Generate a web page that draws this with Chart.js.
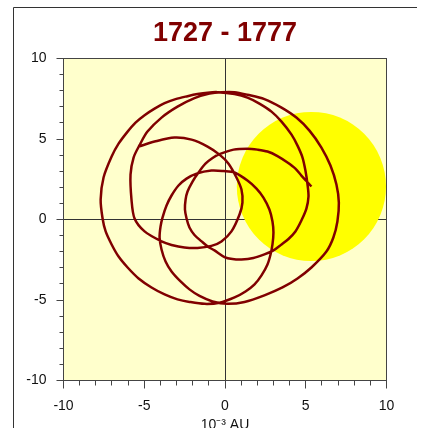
<!DOCTYPE html>
<html>
<head>
<meta charset="utf-8">
<script src="https://cdn.jsdelivr.net/npm/chart.js@4/dist/chart.umd.min.js"></script>
<style>
html,body{margin:0;padding:0;background:#fff;}
#wrap{width:424px;height:428px;position:relative;overflow:hidden;}
canvas{display:block;}
</style>
</head>
<body>
<div id="wrap"><canvas id="c" width="424" height="428"></canvas></div>
<script>
// ---- data (units: 10^-3 AU) ----
const titleText = '1727 - 1777';
const axisTitle = '10⁻³ AU';
const tickLabels = [-10, -5, 0, 5, 10];
const axisMin = -10;
const axisMax = 10;

// path of the Sun's centre about the barycentre, 1727 -> 1777
const orbitX = [
  -5.35, -4.36, -3.13, -2.07, -1.08, -0.34, 0.22, 0.71, 1.02, 1.08,
  0.90, 0.40, -0.22, -0.84, -1.70, -2.51, -3.31, -3.93, -4.98, -5.60,
  -5.79, -5.85, -5.66, -5.29, -4.80, -3.93, -2.94, -1.89, -0.96, -0.22,
  0.59, 1.39, 2.44, 3.50, 4.42, 5.23, 5.97, 6.53, 6.90, 7.05,
  6.96, 6.71, 6.28, 5.35, 4.49, 3.56, 2.44, 1.21, 0.15, -0.77,
  -1.58, -2.20, -2.75, -3.31, -3.68, -3.93, -4.05, -3.99, -3.87, -3.62,
  -3.31, -2.88, -2.38, -1.76, -0.84, -0.09, 0.59, 1.39, 1.95, 2.38,
  2.75, 2.94, 3.00, 2.94, 2.82, 2.63, 2.26, 1.83, 1.27, 0.59,
  -0.34, -1.27, -2.20, -2.94, -3.74, -4.55, -5.35, -6.03, -6.59, -7.02,
  -7.39, -7.58, -7.70, -7.52, -7.02, -6.59, -6.03, -5.54, -4.98, -4.36,
  -3.74, -3.06, -2.32, -1.70, -1.08, -0.46, 0.59, 1.39, 2.13, 2.88,
  3.50, 4.12, 4.49, 4.80, 4.98, 5.11, 5.17, 5.04, 4.73, 4.36,
  3.93, 3.50, 3.00, 2.44, 1.76, 1.02, 0.46, -0.03, -0.65, -1.08,
  -1.45, -1.89, -2.20, -2.38, -2.48, -2.44, -2.32, -2.01, -1.64, -1.21,
  -0.77, -0.34, 0.53, 1.39, 2.01, 2.63, 3.25, 3.87, 4.36, 4.73,
  5.04, 5.35
];
const orbitY = [
  4.53, 4.84, 5.09, 4.96, 4.53, 4.03, 3.47, 2.61, 1.86, 1.05,
  0.31, -0.74, -1.36, -1.64, -1.77, -1.74, -1.58, -1.36, -0.74, 0.06,
  1.24, 2.79, 3.85, 4.62, 5.46, 6.33, 7.01, 7.54, 7.82, 7.91,
  7.91, 7.75, 7.48, 6.95, 6.33, 5.52, 4.47, 3.35, 2.17, 1.05,
  -0.12, -1.12, -1.99, -2.98, -3.66, -4.22, -4.71, -5.12, -5.24, -5.09,
  -4.75, -4.34, -3.85, -3.23, -2.61, -1.86, -1.12, -0.43, 0.12, 0.87,
  1.49, 2.11, 2.54, 2.85, 3.04, 3.01, 2.92, 2.42, 1.92, 1.36,
  0.62, -0.12, -0.81, -1.55, -2.17, -2.79, -3.47, -4.03, -4.47, -4.84,
  -5.17, -5.24, -5.12, -4.96, -4.65, -4.22, -3.66, -2.98, -2.30, -1.55,
  -0.74, 0.06, 1.24, 2.61, 3.91, 4.71, 5.46, 6.02, 6.48, 6.89,
  7.23, 7.48, 7.66, 7.79, 7.88, 7.91, 7.79, 7.57, 7.20, 6.70,
  6.08, 5.27, 4.59, 3.85, 3.04, 2.17, 1.43, 0.68, -0.06, -0.74,
  -1.21, -1.55, -1.92, -2.17, -2.39, -2.48, -2.45, -2.33, -1.92, -1.67,
  -1.36, -0.96, -0.50, 0.06, 0.62, 1.24, 1.74, 2.36, 2.92, 3.47,
  3.82, 4.06, 4.34, 4.40, 4.34, 4.22, 3.94, 3.54, 3.16, 2.73,
  2.39, 2.05
];
const sunRadius = 4.62; // solar radius in 10^-3 AU

// ---- build chart ----
const pathPoints = orbitX.map((x, i) => ({ x: x, y: orbitY[i] }));
const sunCentre = [{ x: orbitX[orbitX.length - 1], y: orbitY[orbitY.length - 1] }];

const FONT = 'Liberation Sans, Arial, Helvetica, sans-serif';

const decor = {
  id: 'decor',
  beforeDraw(chart) {
    const { ctx, chartArea: a } = chart;
    ctx.save();
    ctx.fillStyle = '#ffffff';
    ctx.fillRect(0, 0, chart.width, chart.height);
    ctx.fillStyle = '#FFFFCC';
    ctx.fillRect(a.left, a.top, a.right - a.left, a.bottom - a.top);
    ctx.strokeStyle = '#333333';
    ctx.lineWidth = 1;
    ctx.beginPath();
    ctx.moveTo(13.5, chart.height);
    ctx.lineTo(13.5, 7.5);
    ctx.lineTo(417, 7.5);
    ctx.stroke();
    ctx.restore();
  },
  afterDraw(chart) {
    const { ctx, chartArea: a } = chart;
    const xs = chart.scales.x, ys = chart.scales.y;
    ctx.save();
    ctx.strokeStyle = '#444444';
    ctx.lineWidth = 1;
    const L = Math.floor(a.left) + 0.5, R = Math.floor(a.right) + 0.5;
    const T = Math.floor(a.top) + 0.5, B = Math.floor(a.bottom) + 0.5;
    ctx.strokeRect(L, T, R - L, B - T);
    ctx.beginPath();
    for (let v = axisMin; v <= axisMax; v++) {
      const major = tickLabels.includes(v);
      const px = Math.floor(xs.getPixelForValue(v)) + 0.5;
      ctx.moveTo(px, B);
      ctx.lineTo(px, B + (major ? 8 : 5));
      const py = Math.floor(ys.getPixelForValue(v)) + 0.5;
      ctx.moveTo(L, py);
      ctx.lineTo(L - (major ? 7 : 4), py);
    }
    ctx.stroke();
    ctx.restore();
  }
};

const zeroGrid = ctx => (ctx.tick && ctx.tick.value === 0) ? '#333333' : 'rgba(0,0,0,0)';

new Chart(document.getElementById('c'), {
  type: 'scatter',
  data: {
    datasets: [
      {
        label: 'Sun',
        data: sunCentre,
        order: 2,
        showLine: false,
        pointStyle: 'circle',
        pointBackgroundColor: '#FFFF00',
        pointBorderColor: '#FFFF00',
        pointBorderWidth: 0,
        pointRadius: ctx => {
          const s = ctx.chart.scales && ctx.chart.scales.x;
          if (!s) return 0;
          return Math.abs(s.getPixelForValue(sunRadius) - s.getPixelForValue(0));
        }
      },
      {
        label: 'Path',
        data: pathPoints,
        order: 1,
        showLine: true,
        borderColor: '#800000',
        borderWidth: 2.5,
        pointRadius: 0,
        tension: 0.3,
        fill: false
      }
    ]
  },
  options: {
    responsive: false,
    animation: false,
    events: [],
    layout: { padding: { left: 26, right: 0, top: 0, bottom: 0 } },
    plugins: {
      legend: { display: false },
      tooltip: { enabled: false },
      title: {
        display: true,
        text: titleText,
        color: '#800000',
        font: { family: FONT, size: 27, weight: 'bold' },
        padding: { top: 17, bottom: 9.1 }
      }
    },
    scales: {
      x: {
        type: 'linear',
        position: 'bottom',
        min: axisMin, max: axisMax,
        z: 1,
        afterFit: s => { s.height = 47.5; },
        border: { display: false },
        grid: { color: zeroGrid, drawTicks: false, lineWidth: 1 },
        ticks: {
          stepSize: 1, autoSkip: false, maxRotation: 0, padding: 17,
          color: '#111111', font: { family: FONT, size: 14 },
          callback: v => tickLabels.includes(v) ? String(v) : ''
        },
        title: {
          display: true, text: axisTitle, color: '#111111',
          font: { family: FONT, size: 14 },
          padding: { top: 0, bottom: -6 }
        }
      },
      y: {
        type: 'linear',
        position: 'left',
        min: axisMin, max: axisMax,
        z: 1,
        afterFit: s => { s.width = 37.5; },
        border: { display: false },
        grid: { color: zeroGrid, drawTicks: false, lineWidth: 1 },
        ticks: {
          stepSize: 1, autoSkip: false, padding: 17,
          color: '#111111', font: { family: FONT, size: 14 },
          callback: v => tickLabels.includes(v) ? String(v) : ''
        }
      },
      yRight: {
        type: 'linear',
        position: 'right',
        display: true,
        min: axisMin, max: axisMax,
        afterFit: s => { s.width = 37.5; },
        border: { display: false },
        grid: { display: false, drawTicks: false },
        ticks: { display: false }
      }
    }
  },
  plugins: [decor]
});
</script>
</body>
</html>
